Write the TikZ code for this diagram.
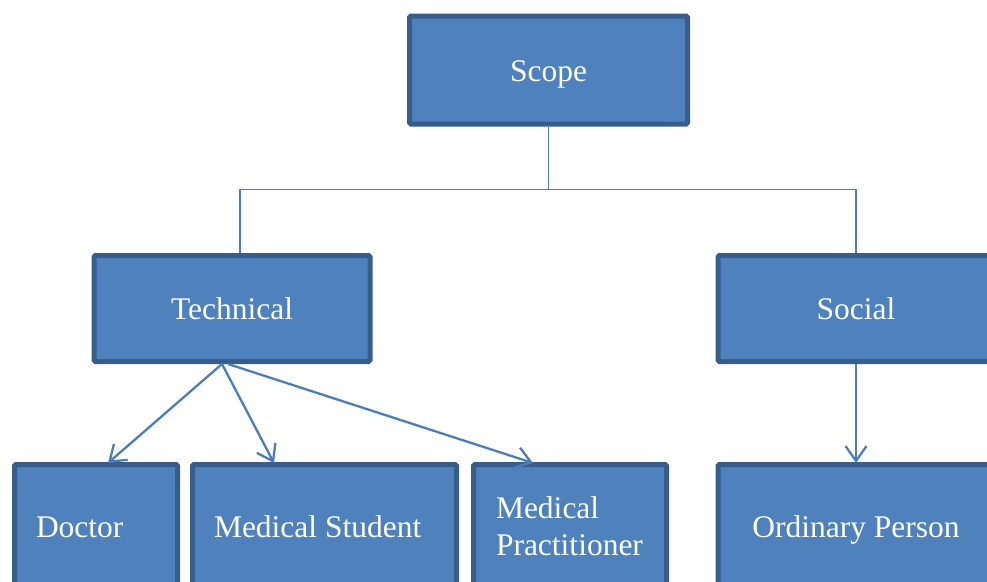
\documentclass[tikz,border=0pt]{standalone}
\usepackage{fontspec}
\setmainfont{Liberation Serif}
\usetikzlibrary{arrows.meta,calc}
\definecolor{boxfill}{HTML}{4F81BD}
\definecolor{boxline}{HTML}{385D8A}
\definecolor{linkline}{HTML}{4A7EBB}
\tikzset{
  box/.style={draw=boxline, fill=boxfill, line width=5pt, rounded corners=1.5pt,
    text=white, font=\fontsize{31.5}{36.5}\selectfont, inner sep=0pt,
    text height=27pt, text depth=5pt},
  leftbox/.style={box, align=flush left, inner xsep=21.5pt},
  link/.style={draw=linkline, line width=1.8pt},
  arrowlink/.style={draw=linkline, line width=2.3pt, -{Straight Barb[length=15pt,width=21pt]}}
}
\begin{document}
\begin{tikzpicture}[x=1pt,y=-1pt]
  \useasboundingbox (0,0) rectangle (987,581);
  \clip (0,0) rectangle (987,581);

  % upper levels
  \node[box, minimum width=278pt, minimum height=108pt] (scope) at (548.5,70) {Scope};
  \node[box, minimum width=276pt, minimum height=106pt] (tech) at (232,308.5) {Technical};
  \node[box, minimum width=276pt, minimum height=106pt] (social) at (856,308.5) {Social};

  % lower level
  \node[leftbox, minimum width=163pt, minimum height=123pt, text width=120pt] (doctor) at (96,526) {Doctor};
  \node[leftbox, minimum width=264pt, minimum height=123pt, text width=221pt] (student) at (324.5,526) {Medical Student};
  \node[leftbox, inner xsep=22.5pt, minimum width=193pt, minimum height=123pt, text width=148pt,
        text height=, text depth=] (pract) at (570,526) {Medical\\Practitioner};
  \node[box, minimum width=276pt, minimum height=123pt] (ordinary) at (856,526) {Ordinary Person};

  % elbow connectors from the root
  \coordinate (bus) at ($(scope.south)+(0,63)$);
  \coordinate (techtop) at ($(tech.north)+(8,0)$);
  \draw[link] (scope.south) -- (bus);
  \draw[link] (techtop) |- (bus) -| (social.north);

  % arrows to the lower level
  \coordinate (techa) at ($(tech.south)+(-10,0)$);
  \coordinate (techb) at ($(tech.south)+(-4,0)$);
  \draw[arrowlink] (techa) -- ($(doctor.north)+(12,1)$);
  \draw[arrowlink] (techa) -- ($(student.north)+(-50.5,1)$);
  \draw[arrowlink] (techb) -- ($(pract.north)+(-37,1)$);
  \draw[arrowlink] (social.south) -- ($(ordinary.north)+(0,1)$);
\end{tikzpicture}
\end{document}
